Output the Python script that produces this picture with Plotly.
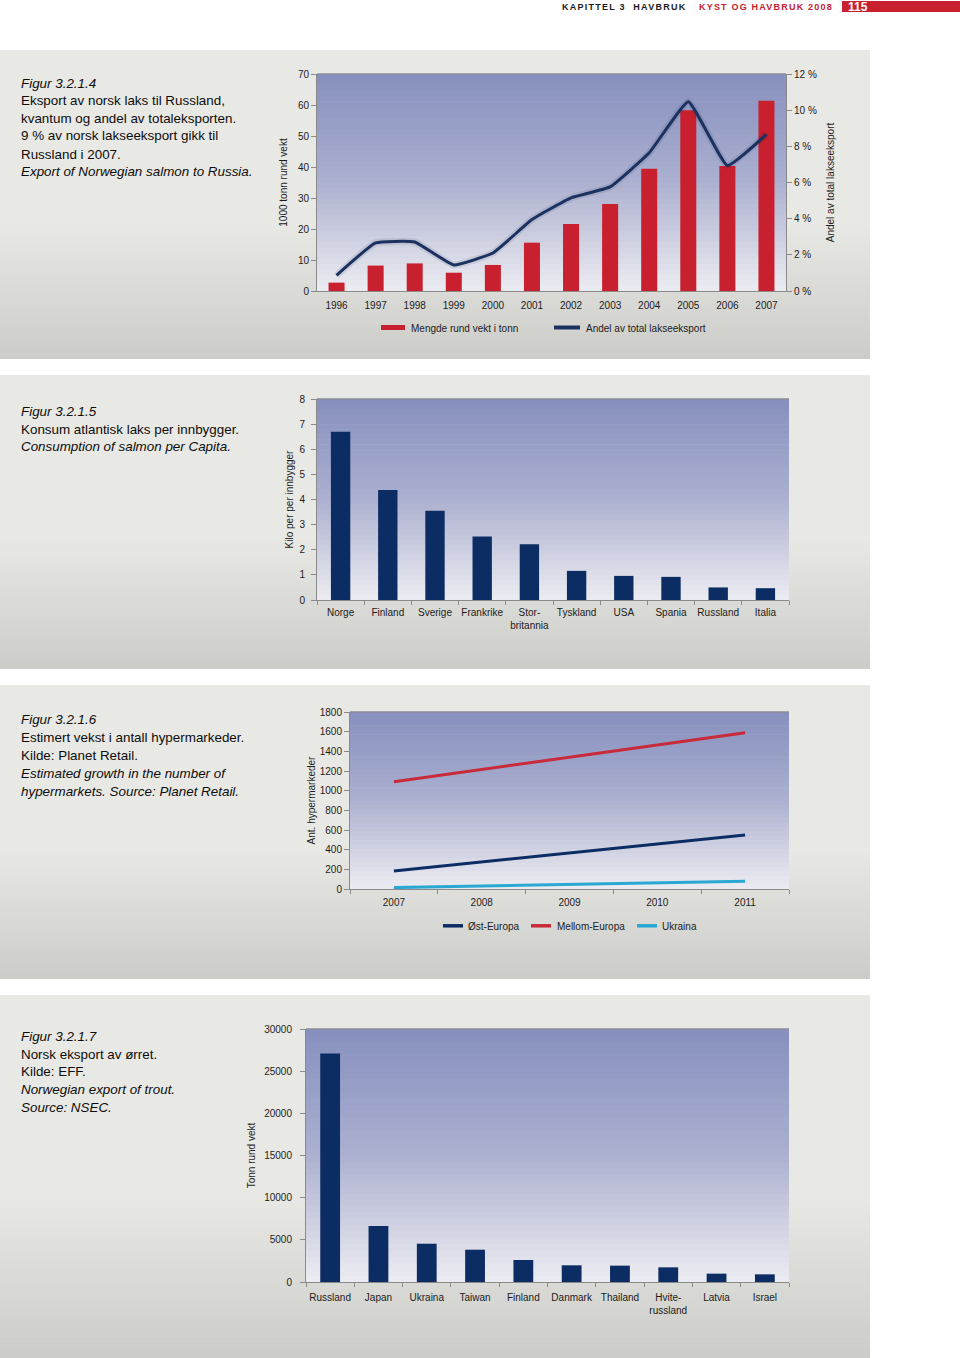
import plotly.graph_objects as go

# ---------------- data ----------------
years = ["1996", "1997", "1998", "1999", "2000", "2001", "2002", "2003", "2004", "2005", "2006", "2007"]
export_volume = [2.7, 8.2, 8.9, 5.9, 8.4, 15.6, 21.6, 28.1, 39.4, 58.3, 40.3, 61.4]
export_share = [0.87, 2.66, 2.71, 1.44, 2.1, 3.95, 5.15, 5.76, 7.64, 10.47, 6.94, 8.66]

cons_countries = ["Norge", "Finland", "Sverige", "Frankrike", "Stor-<br>britannia", "Tyskland",
                  "USA", "Spania", "Russland", "Italia"]
consumption = [6.7, 4.38, 3.55, 2.53, 2.22, 1.16, 0.96, 0.92, 0.50, 0.47]

hyper_years = ["2007", "2008", "2009", "2010", "2011"]
ost_europa = [183, 275, 368, 458, 549]
mellom_europa = [1091, 1215, 1345, 1465, 1589]
ukraina = [14, 30, 46, 62, 78]

trout_countries = ["Russland", "Japan", "Ukraina", "Taiwan", "Finland", "Danmark", "Thailand",
                   "Hvite-<br>russland", "Latvia", "Israel"]
trout_export = [27100, 6640, 4540, 3830, 2610, 1980, 1940, 1740, 990, 910]

# ---------------- style ----------------
W, H = 960, 1358
FONT = "Liberation Sans, Arial, Helvetica, sans-serif"
INK = "#1c1c1c"
RED = "#c8202e"
NAVY = "#0c2d63"
LNAVY = "#1b3160"
LRED = "#c92a3a"
CYAN = "#2aa8d4"
AX = "#8a8a8a"
TF = dict(family=FONT, size=10, color=INK)


def px(x):
    return x / W


def py(y):
    return 1 - y / H


fig = go.Figure()

# chart 1
fig.add_trace(go.Bar(x=years, y=export_volume, marker=dict(color=RED, line_width=0),
                     name="Mengde rund vekt i tonn", xaxis="x", yaxis="y", showlegend=False))
fig.add_trace(go.Scatter(x=years, y=export_share, mode="lines", hoverinfo="skip",
                         line=dict(color="rgba(20,30,70,0.10)", width=7, shape="spline", smoothing=0.35),
                         xaxis="x", yaxis="y5", showlegend=False))
fig.add_trace(go.Scatter(x=years, y=export_share, mode="lines", name="Andel av total lakseeksport",
                         line=dict(color=LNAVY, width=3, shape="spline", smoothing=0.35),
                         xaxis="x", yaxis="y5", showlegend=False))
# chart 2
fig.add_trace(go.Bar(x=cons_countries, y=consumption, marker=dict(color=NAVY, line_width=0),
                     xaxis="x2", yaxis="y2", showlegend=False))
# chart 3
for vals, col, nm in [(ost_europa, NAVY, "Øst-Europa"), (mellom_europa, LRED, "Mellom-Europa"),
                      (ukraina, CYAN, "Ukraina")]:
    fig.add_trace(go.Scatter(x=hyper_years, y=vals, mode="lines", name=nm,
                             line=dict(color=col, width=3), xaxis="x3", yaxis="y3", showlegend=False))
# chart 4
fig.add_trace(go.Bar(x=trout_countries, y=trout_export, marker=dict(color=NAVY, line_width=0),
                     xaxis="x4", yaxis="y4", showlegend=False))


def xax(x0, x1, anchor, ticks, n, stand):
    return dict(domain=[px(x0), px(x1)], anchor=anchor, type="category", showline=True,
                linecolor=AX, linewidth=1, ticks=ticks, tickson="boundaries", ticklen=4,
                tickcolor=AX, tickfont=TF, showgrid=False, zeroline=False, fixedrange=True,
                tickangle=0, automargin=False, range=[-0.5, n - 0.5], ticklabelstandoff=stand)


def yax(y0, y1, anchor, rng, dtick, title, standoff, stand):
    return dict(domain=[py(y1), py(y0)], anchor=anchor, range=rng, dtick=dtick, showline=True,
                linecolor=AX, linewidth=1, ticks="outside", ticklen=5, tickcolor=AX, tickfont=TF,
                showgrid=False, zeroline=False, automargin=False, tickformat="d", fixedrange=True,
                ticklabelstandoff=stand,
                title=dict(text=title, font=dict(family=FONT, size=10, color=INK), standoff=standoff))


layout = dict(
    template="none",
    width=W, height=H, margin=dict(l=0, r=0, t=0, b=0, pad=0), autosize=False,
    paper_bgcolor="white", plot_bgcolor="rgba(0,0,0,0)",
    bargap=0.59, showlegend=False, font=dict(family=FONT, color=INK),
    xaxis=xax(317, 786, "y", "", 12, 5),
    yaxis=yax(74, 291, "x", [0, 70], 10, "1000 tonn rund vekt", 8, 0),
    yaxis5=dict(overlaying="y", side="right", anchor="x", range=[0, 12], dtick=2, ticksuffix=" %",
                showline=True, linecolor=AX, ticks="outside", ticklen=5, tickcolor=AX, tickfont=TF,
                showgrid=False, zeroline=False, automargin=False, fixedrange=True,
                title=dict(text="Andel av total lakseeksport", font=dict(family=FONT, size=10, color=INK),
                           standoff=11)),
    xaxis2=xax(317, 789, "y2", "outside", 10, 3),
    yaxis2=yax(399, 600, "x2", [0, 8], 1, "Kilo per per innbygger", 3, 4),
    xaxis3=xax(350, 789, "y3", "outside", 5, 4),
    yaxis3=yax(712, 889, "x3", [0, 1800], 200, "Ant. hypermarkeder", 2, 0),
    xaxis4=xax(306, 789, "y4", "outside", 10, 6),
    yaxis4=yax(1029, 1282, "x4", [0, 30000], 5000, "Tonn rund vekt", 6, 6),
)
fig.update_layout(**layout)

shapes = []


def lerp(a, b, t):
    return tuple(round(a[i] + (b[i] - a[i]) * t) for i in range(3))


# panel backgrounds
panels = [(50, 359), (375, 669), (685, 979), (995, 1358)]
PT, PB = (232, 232, 228), (204, 204, 200)
for (y0, y1) in panels:
    shapes.append(dict(type="rect", xref="paper", yref="paper", x0=0, x1=px(870), y0=py(y1), y1=py(y0),
                       fillcolor="rgb%s" % (PT,), line_width=0, layer="below"))
    gs = y0 + 0.55 * (y1 - y0)
    n = 30
    for i in range(n):
        a = gs + (y1 - gs) * i / n
        b = gs + (y1 - gs) * (i + 1) / n + 0.6
        c = lerp(PT, PB, (i + 0.5) / n)
        shapes.append(dict(type="rect", xref="paper", yref="paper", x0=0, x1=px(870),
                           y0=py(min(b, y1)), y1=py(a), fillcolor="rgb%s" % (c,), line_width=0,
                           layer="below"))

# plot-area gradients
GT, GM, GB = (134, 143, 190), (172, 177, 208), (236, 236, 241)
for sx in ["", "2", "3", "4"]:
    n = 40
    for i in range(n):
        t = (i + 0.5) / n
        c = lerp(GT, GM, t / 0.5) if t < 0.5 else lerp(GM, GB, (t - 0.5) / 0.5)
        shapes.append(dict(type="rect", xref="x%s domain" % sx, yref="y%s domain" % sx,
                           x0=0, x1=1, y0=1 - (i + 1) / n - 0.003, y1=1 - i / n,
                           fillcolor="rgb%s" % (c,), line_width=0, layer="below"))
    shapes.append(dict(type="line", xref="x%s domain" % sx, yref="y%s domain" % sx,
                       x0=0, x1=1, y0=1, y1=1, line=dict(color="#8c8c9c", width=1.5), layer="below"))

# header red block
shapes.append(dict(type="rect", xref="paper", yref="paper", x0=px(842), x1=1, y0=py(12), y1=py(1),
                   fillcolor=RED, line_width=0))


# manual legends
def leg_rect(x0, x1, yc, th, col):
    shapes.append(dict(type="rect", xref="paper", yref="paper", x0=px(x0), x1=px(x1),
                       y0=py(yc + th / 2), y1=py(yc - th / 2), fillcolor=col, line_width=0))


leg_rect(381, 405, 327.5, 5, RED)
leg_rect(554, 580, 327.5, 4, LNAVY)
leg_rect(443, 463, 925.8, 3.5, NAVY)
leg_rect(531, 551, 925.8, 3.5, LRED)
leg_rect(637, 657, 925.8, 3.5, CYAN)

fig.update_layout(shapes=shapes)

ann = []


def text(x, y, s, size=13, italic=False, color=INK, anchor="left", bold=False):
    if italic:
        s = "<i>%s</i>" % s
    if bold:
        s = "<b>%s</b>" % s
    ann.append(dict(xref="paper", yref="paper", x=px(x), y=py(y), text=s, showarrow=False,
                    xanchor=anchor, yanchor="middle", font=dict(family=FONT, size=size, color=color)))


# header
text(560, 7.5, '<span style="letter-spacing:1.25px">KAPITTEL 3  HAVBRUK</span>', size=9, bold=True)
text(697, 7.5, '<span style="letter-spacing:1.2px">KYST OG HAVBRUK 2008</span>', size=9, bold=True,
     color=RED)
text(858, 7.0, "115", size=12, bold=True, color="white", anchor="center")

# descriptions
desc = [
    (83, "Figur 3.2.1.4", True), (101, "Eksport av norsk laks til Russland,", False),
    (118.5, "kvantum og andel av totaleksporten.", False), (136, "9 % av norsk lakseeksport gikk til", False),
    (154, "Russland i 2007.", False), (171.5, "Export of Norwegian salmon to Russia.", True),
    (411, "Figur 3.2.1.5", True), (429, "Konsum atlantisk laks per innbygger.", False),
    (447, "Consumption of salmon per Capita.", True),
    (719, "Figur 3.2.1.6", True), (737, "Estimert vekst i antall hypermarkeder.", False),
    (755, "Kilde: Planet Retail.", False), (773, "Estimated growth in the number of", True),
    (791, "hypermarkets. Source: Planet Retail.", True),
    (1036, "Figur 3.2.1.7", True), (1054, "Norsk eksport av ørret.", False),
    (1071, "Kilde: EFF.", False), (1089, "Norwegian export of trout.", True),
    (1107, "Source: NSEC.", True),
]
for y, s, it in desc:
    text(18.5, y, s, size=13.4, italic=it, color="#0d0d0d")

# legend labels
text(409, 328, "Mengde rund vekt i tonn", size=10)
text(584, 328, "Andel av total lakseeksport", size=10)
text(466, 926, "Øst-Europa", size=10)
text(555, 926, "Mellom-Europa", size=10)
text(660, 926, "Ukraina", size=10)

fig.update_layout(annotations=ann)

fig.write_html("out.html", config={"displayModeBar": False, "staticPlot": True},
               post_script="document.body.style.margin='0';document.body.style.overflow='hidden';")
